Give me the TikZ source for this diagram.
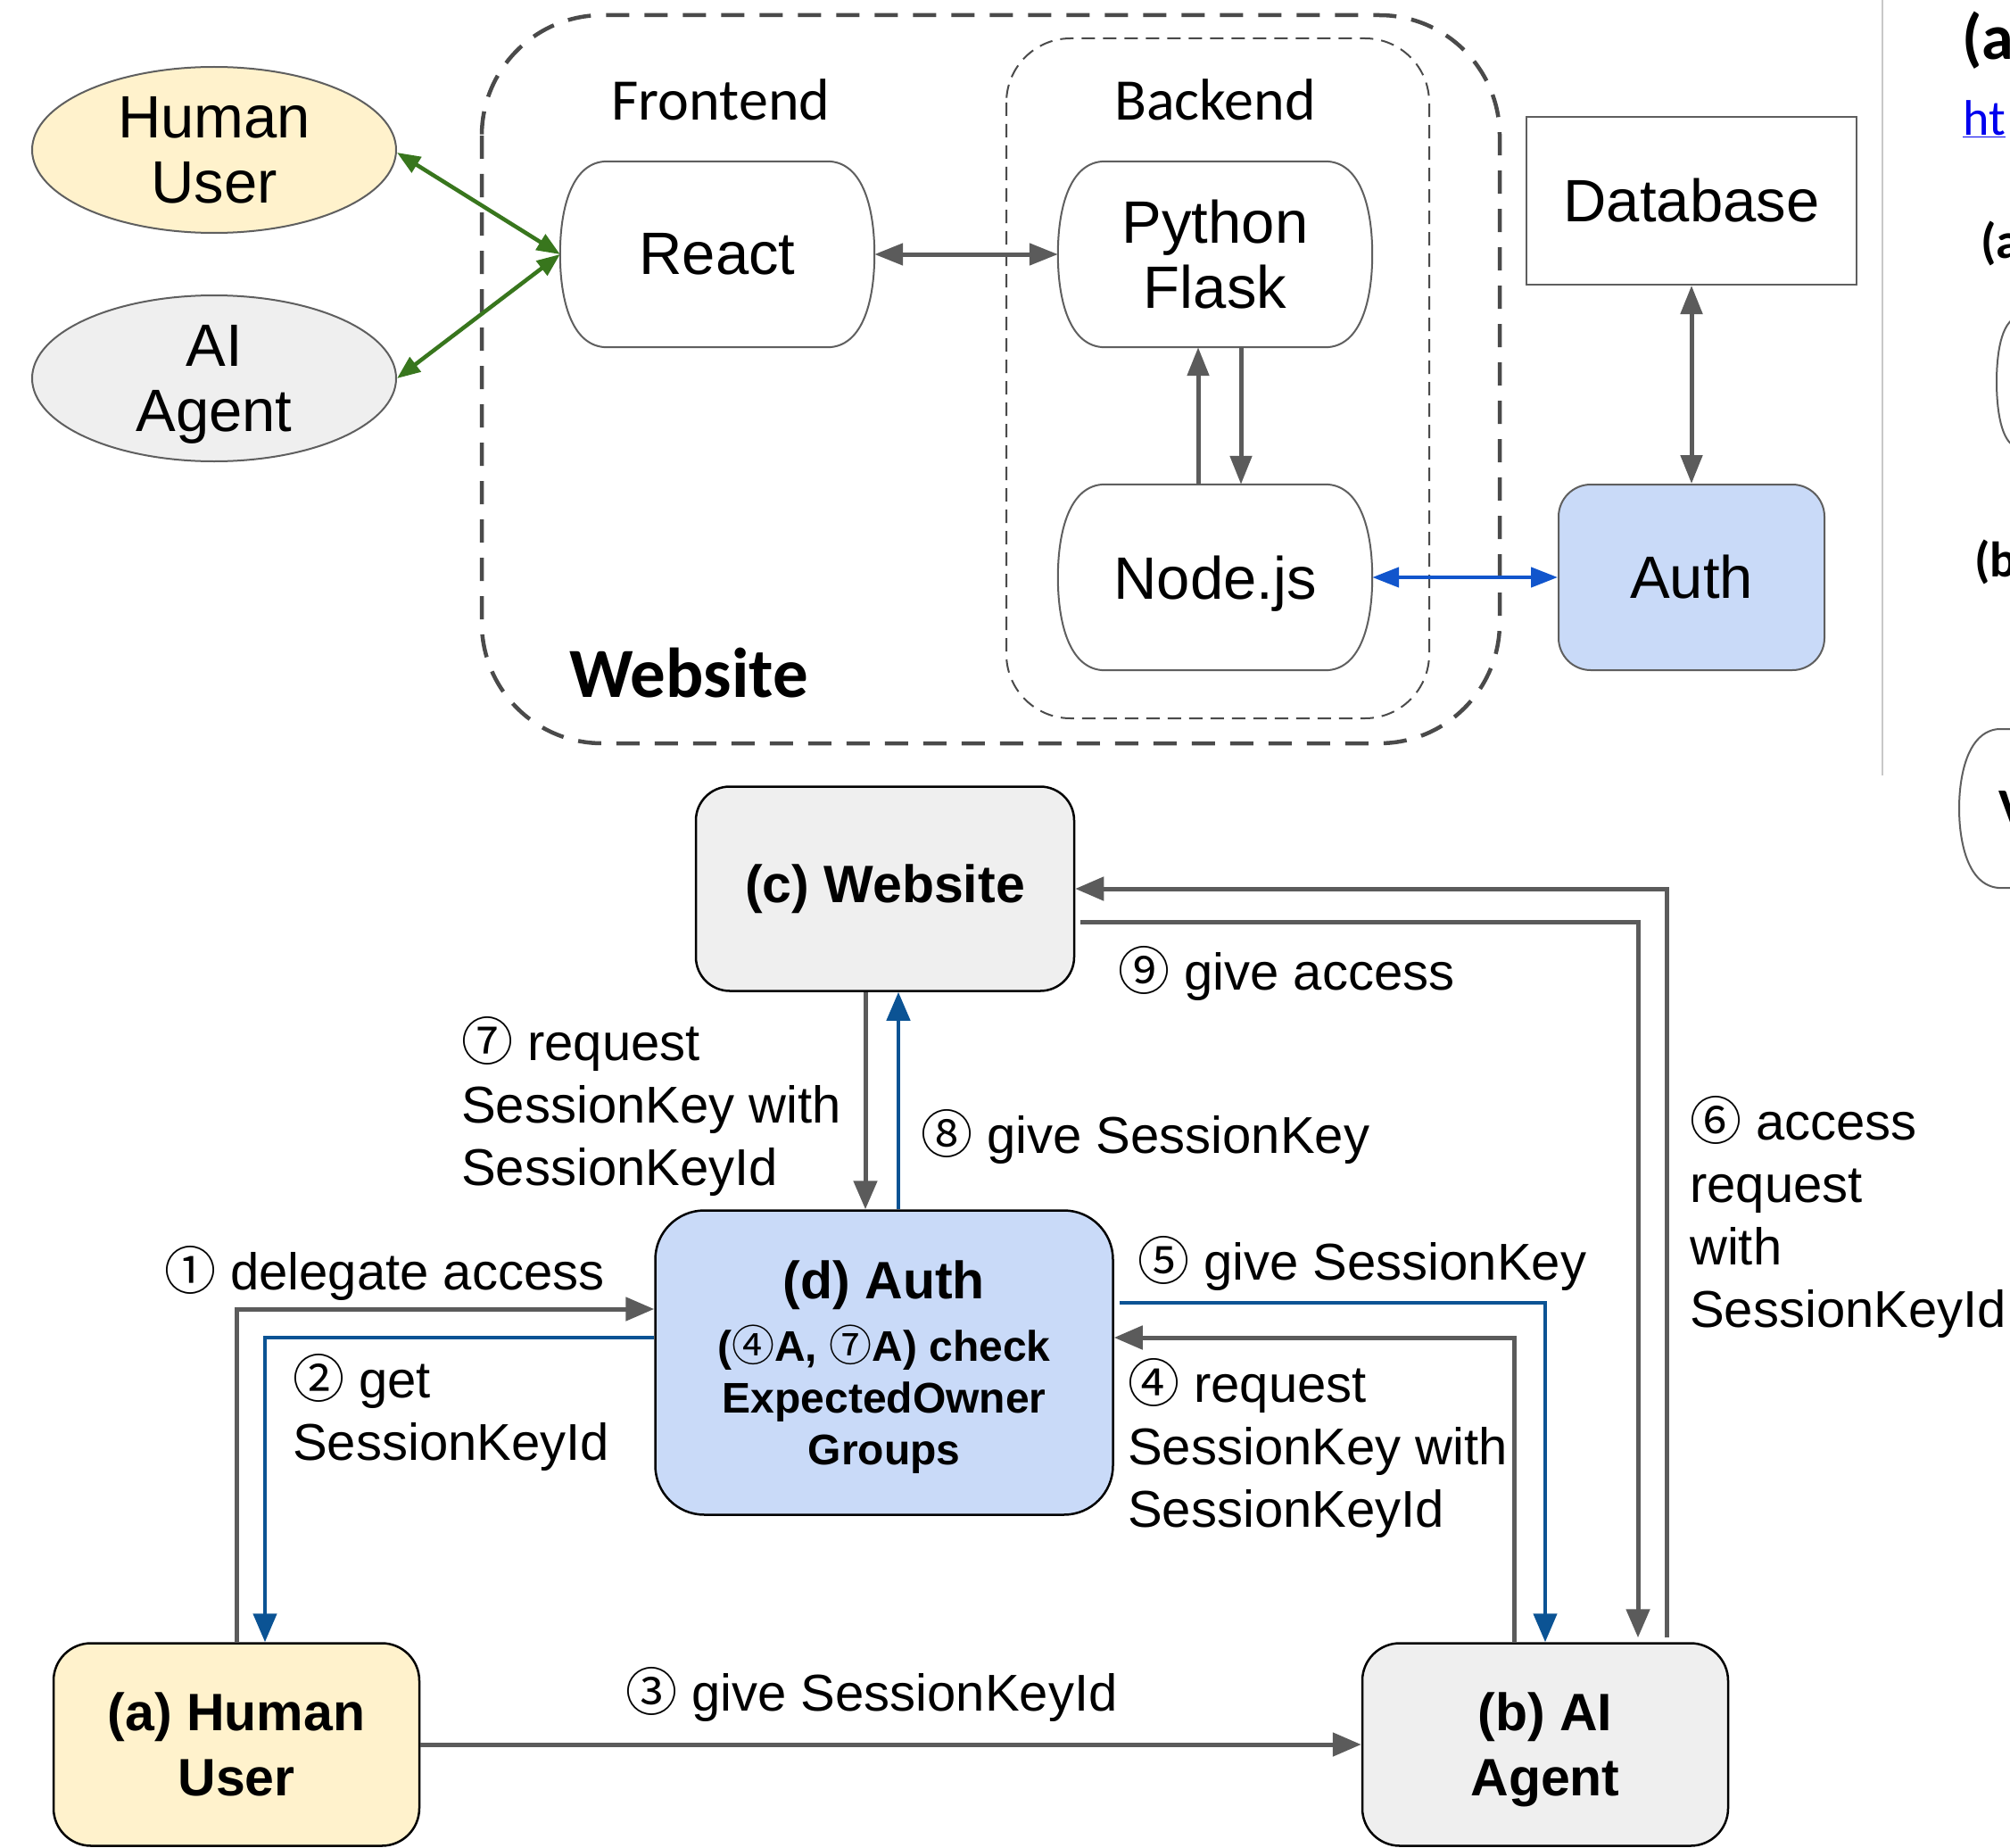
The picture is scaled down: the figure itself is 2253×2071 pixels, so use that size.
\documentclass[tikz,border=0pt]{standalone}
\usepackage{fontspec}
\setmainfont{Liberation Sans}
\newfontfamily\calfont{Carlito}
\newfontfamily\circfont{Noto Sans CJK SC}
\usetikzlibrary{arrows.meta,shapes.geometric}
\definecolor{nodegray}{HTML}{5F5F5F}
\definecolor{linegray}{HTML}{5B5B5B}
\definecolor{yellowfill}{HTML}{FFF2CC}
\definecolor{grayfill}{HTML}{EFEFEF}
\definecolor{bluefill}{HTML}{C9DAF8}
\definecolor{greenline}{HTML}{38761D}
\definecolor{brightblue}{HTML}{1155CC}
\definecolor{darkblue}{HTML}{0B5394}
\definecolor{dashgray}{HTML}{4A4A4A}
\definecolor{rulegray}{HTML}{C8C8C8}
\definecolor{linkblue}{HTML}{0000EE}
\newcommand\toptxt{\fontsize{67}{73}\selectfont}
\newcommand\lbltxt{\fontsize{58}{70}\selectfont}
\newcommand\cn[1]{{\circfont\mdseries #1}}
\newcommand\nodepth[1]{\raisebox{0pt}[\height][0pt]{#1}}
\newcommand\capsuleoutline[1]{%
 \draw[capsuleline] ([xshift=53pt]#1.north west) -- ([xshift=-53pt]#1.north east)
 .. controls ([xshift=-12pt]#1.north east) and ([yshift=-55pt]#1.north east) .. (#1.east)
 .. controls ([yshift=55pt]#1.south east) and ([xshift=-12pt]#1.south east) .. ([xshift=-53pt]#1.south east)
 -- ([xshift=53pt]#1.south west)
 .. controls ([xshift=12pt]#1.south west) and ([yshift=55pt]#1.south west) .. (#1.west)
 .. controls ([yshift=-55pt]#1.north west) and ([xshift=12pt]#1.north west) .. ([xshift=53pt]#1.north west) -- cycle;}
\tikzset{
 gtip/.tip={Triangle[length=32pt,width=26pt]},
 gtiptop/.tip={Triangle[length=32pt,width=24pt]},
 grtip/.tip={Triangle[length=26pt,width=20pt]},
 btip/.tip={Triangle[length=30pt,width=22pt]},
 ellnode/.style={ellipse, draw=nodegray, line width=2pt, minimum width=408pt, minimum height=186pt, inner sep=0pt, align=center, font=\toptxt},
 capsulebox/.style={rectangle, minimum width=352pt, minimum height=208pt, inner sep=0pt, align=center, font=\toptxt},
 capsuleline/.style={draw=nodegray, line width=2pt},
 topbox/.style={rectangle, draw=nodegray, line width=2pt, inner sep=0pt, align=center, font=\toptxt},
 bbox/.style={rectangle, draw=black, line width=2.5pt, rounded corners=42pt, inner sep=0pt, align=center, font=\bfseries\fontsize{59}{73}\selectfont},
 outerdash/.style={draw=dashgray, line width=4.5pt, dash pattern=on 26pt off 17pt, rounded corners=135pt},
 innerdash/.style={draw=dashgray, line width=2pt, dash pattern=on 15pt off 9pt, rounded corners=72pt},
 greenarr/.style={draw=greenline, line width=4.5pt, grtip-grtip},
 toparr/.style={draw=linegray, line width=5pt},
 bluetop/.style={draw=brightblue, line width=4.5pt, btip-btip},
 garr/.style={draw=linegray, line width=5pt, -gtip},
 barr/.style={draw=darkblue, line width=4.5pt, -gtip},
 lbl/.style={font=\lbltxt, anchor=base west, align=left, inner sep=0pt},
 grouplbl/.style={font=\calfont\fontsize{66}{70}\selectfont, inner sep=0pt},
}
\begin{document}
\begin{tikzpicture}[x=1pt,y=-1pt]
\useasboundingbox (0,0) rectangle (2253,2071);
\fill[white] (0,0) rectangle (2253,2071);
\begin{scope}
\clip (0,0) rectangle (2253,2071);
% ---------- top architecture ----------
\draw[outerdash] (540,17) rectangle (1681,833);
\draw[innerdash] (1128,43) rectangle (1602,805);
\node[grouplbl] (fe) at (808,112) {Frontend};
\node[grouplbl] (be) at (1362,112) {Backend};
\node[font=\calfont\bfseries\fontsize{79}{80}\selectfont, inner sep=0pt] (wslbl) at (772,754) {Website};

\node[ellnode, fill=yellowfill] (hu) at (240,168) {Human\\User};
\node[ellnode, fill=grayfill] (ai) at (240,424) {AI\\\nodepth{Agent}};
\node[capsulebox] (react) at (804,285) {React};
\node[capsulebox] (flask) at (1362,285) {Python\\Flask};
\node[capsulebox] (nodejs) at (1362,647) {\nodepth{Node.js}};
\capsuleoutline{react}
\capsuleoutline{flask}
\capsuleoutline{nodejs}
\node[topbox, minimum width=370pt, minimum height=188pt] (db) at (1896,225) {Database};
\node[topbox, fill=bluefill, rounded corners=36pt, minimum width=298pt, minimum height=208pt] (auth1) at (1896,647) {Auth};

\draw[greenarr] ([yshift=-3pt]hu.east) -- (react.west);
\draw[greenarr] (ai.east) -- (react.west);
\draw[toparr, gtiptop-gtiptop] (react.east) -- (flask.west);
\draw[toparr, -gtiptop] ([xshift=-19pt]nodejs.north) -- ([xshift=-19pt]flask.south);
\draw[toparr, -gtiptop] ([xshift=29pt]flask.south) -- ([xshift=29pt]nodejs.north);
\draw[bluetop] (nodejs.east) -- (auth1.west);
\draw[toparr, gtiptop-gtiptop] (db.south) -- (auth1.north);

% ---------- right-edge remnants ----------
\draw[rulegray, line width=1.5pt] (2110,0) coordinate (rtop) -- (2110,869) coordinate (rbot);
\node[font=\calfont\bfseries\fontsize{72}{72}\selectfont, anchor=west, inner sep=0pt] (ra) at (2199,45) {(a};
\node[font=\calfont\fontsize{56}{56}\selectfont, anchor=west, inner sep=0pt, text=linkblue] (rlink) at (2200,133) {\underline{ht}};
\node[font=\calfont\bfseries\fontsize{56}{56}\selectfont, anchor=west, inner sep=0pt] (ra2) at (2220,273) {(a};
\node[font=\calfont\bfseries\fontsize{56}{56}\selectfont, anchor=west, inner sep=0pt] (rb) at (2213,630) {(b};
\draw[capsuleline] (2262,355) .. controls (2242,360) and (2238,400) .. (2238,428) .. controls (2238,456) and (2242,497) .. (2262,502);
\draw[capsuleline] (2262,817) -- (2240,817) .. controls (2205,820) and (2196,870) .. (2196,906) .. controls (2196,942) and (2205,992) .. (2240,995) -- (2262,995);
\node[font=\calfont\bfseries\fontsize{60}{60}\selectfont, anchor=west, inner sep=0pt] (rv) at (2240,906) {V};

% ---------- bottom protocol ----------
\node[bbox, fill=grayfill, rounded corners=38pt, minimum width=424pt, minimum height=229pt] (web) at (992,996) {(c) Website};
\node[bbox, fill=bluefill, rounded corners=55pt, minimum width=513pt, minimum height=341pt, font=\bfseries\fontsize{48}{58}\selectfont] (auth) at (991,1527)
 {{\fontsize{59}{72}\selectfont (d) Auth}\\[12pt](\cn{④}A, \cn{⑦}A) check\\ExpectedOwner\\\nodepth{Groups}};
\node[bbox, fill=yellowfill, minimum width=410pt, minimum height=227pt] (human) at (265,1955) {(a) Human\\User};
\node[bbox, fill=grayfill, minimum width=410pt, minimum height=227pt] (agent) at (1732,1955) {(b) AI\\\nodepth{Agent}};

% 1
\draw[garr] (human.north) |- ([yshift=60pt]auth.west);
% 2
\draw[barr] ([yshift=28pt]auth.west) -| ([xshift=32pt]human.north);
% 3
\draw[garr] (human.east) -- (agent.west);
% 4
\draw[garr] ([xshift=-35pt]agent.north) |- ([yshift=28pt]auth.east);
% 5
\draw[barr] ([yshift=67pt,xshift=6pt]auth.east) -| (agent.north);
% 6
\draw[garr, shorten <=5pt] ([xshift=136pt]agent.north) |- (web.east);
% 7
\draw[garr] ([xshift=-22pt]web.south) -- ([xshift=-22pt]web.south |- auth.north);
% 8
\draw[barr] ([xshift=16pt]auth.north) -- ([xshift=16pt]auth.north |- web.south);
% 9
\draw[garr, shorten >=5pt] ([yshift=-37pt,xshift=6pt]web.east) -| ([xshift=104pt]agent.north);

% labels (base anchor = baseline of the last line)
\node[lbl] (l9) at (1253,1109) {\cn{⑨} give access};
\node[lbl] (l7) at (517,1328) {\cn{⑦} request\\SessionKey with\\SessionKeyId};
\node[lbl] (l8) at (1032,1292) {\cn{⑧} give SessionKey};
\node[lbl] (l6) at (1894,1487) {\cn{⑥} access\\request\\with\\SessionKeyId};
\node[lbl] (l1) at (184,1445) {\cn{①} delegate access};
\node[lbl] (l5) at (1275,1434) {\cn{⑤} give SessionKey};
\node[lbl] (l2) at (328,1636) {\cn{②} get\\SessionKeyId};
\node[lbl] (l4) at (1264,1711) {\cn{④} request\\SessionKey with\\SessionKeyId};
\node[lbl] (l3) at (701,1917) {\cn{③} give SessionKeyId};
\end{scope}
\end{tikzpicture}
\end{document}
